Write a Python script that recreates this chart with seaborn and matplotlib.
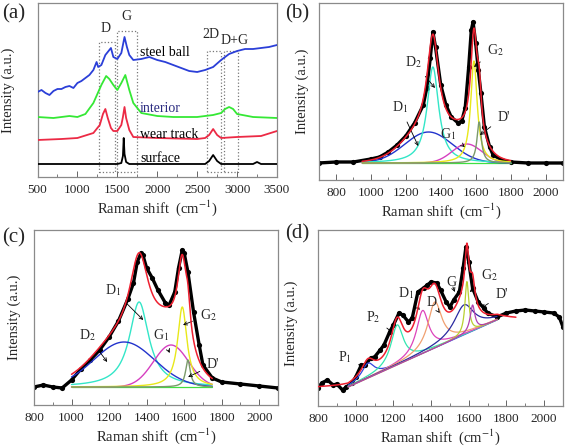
import numpy as np
import pandas as pd
import matplotlib
matplotlib.use("Agg")
import matplotlib.pyplot as plt
from matplotlib.patches import Rectangle
from matplotlib.ticker import MultipleLocator
import seaborn as sns

sns.set_theme(style="ticks")
plt.rcParams["font.family"] = ["Liberation Serif", "DejaVu Serif"]
plt.rcParams["mathtext.fontset"] = "stix"

# ---------------- panel (a) spectra ----------------
steel_x = [500, 550, 600, 650, 700, 750, 800, 850, 900, 950, 1000, 1050, 1100, 1150, 1200, 1240, 1260,
           1300, 1350, 1400, 1420, 1450, 1500, 1550, 1590, 1620, 1650, 1700, 1800, 1900, 2000, 2100,
           2200, 2300, 2400, 2500, 2600, 2700, 2800, 2900, 3000, 3100, 3200, 3300, 3400, 3500]
steel_y = [88, 90, 87, 85, 89, 91, 91, 93, 94, 92, 97, 99, 102, 105, 110, 118, 113,
           115, 125, 130, 132, 123, 121, 127, 143, 133, 125, 120, 121, 123, 120, 118,
           115, 112, 109, 108, 110, 113, 120, 126, 129, 131, 131, 132, 133, 135]
interior_x = [500, 700, 900, 1000, 1100, 1200, 1250, 1300, 1360, 1400, 1450, 1500, 1550, 1600, 1650,
              1700, 1800, 2000, 2200, 2500, 2700, 2800, 2850, 2900, 2950, 3000, 3200, 3500]
interior_y = [63, 62, 64, 63, 66, 77, 86, 95, 104, 101, 95, 90, 97, 105, 90,
              77, 67, 64, 63, 63, 65, 67, 71, 73, 71, 66, 63, 62]
wear_x = [500, 800, 1000, 1200, 1280, 1320, 1350, 1380, 1420, 1450, 1500, 1550, 1570, 1590, 1610,
          1650, 1700, 2000, 2500, 2600, 2650, 2700, 2750, 2800, 3000, 3300, 3500]
wear_y = [40, 41, 42, 47, 55, 66, 71, 62, 52, 49, 49, 55, 63, 73, 62,
          50, 43, 42, 41, 42, 45, 51, 45, 42, 43, 44, 49]
surf_x = [500, 1000, 1500, 1550, 1570, 1580, 1590, 1610, 1650, 2000, 2500, 2600, 2650, 2700, 2750,
          2800, 3000, 3200, 3250, 3300, 3500]
surf_y = [16, 16, 16, 17, 24, 42, 26, 18, 16, 16, 16, 16, 19, 25, 19,
          16, 16, 16, 18, 16, 16]
a_series = ["steel ball", "interior", "wear track", "surface"]
box_labels = ["D", "G", "2D", "D+G"]
box_x0 = [1270, 1492, 2620, 2837]
box_x1 = [1471, 1743, 2800, 3013]
box_ytop = [138, 149, 129, 129]

# ---------------- panel (b) ----------------
b_x = [700, 800, 900, 1000, 1050, 1100, 1150, 1200, 1250, 1300, 1320, 1340, 1355, 1370, 1400, 1430,
       1460, 1500, 1520, 1540, 1560, 1575, 1585, 1600, 1615, 1630, 1650, 1680, 1700, 1750, 1800,
       1900, 2000, 2100]
b_y = [17, 18, 18, 21, 23, 28, 35, 44, 57, 75, 92, 122, 148, 133, 95, 75,
       63, 57, 59, 72, 113, 150, 158, 137, 110, 87, 53, 33, 25, 20, 18,
       17, 17, 17]
b_names = ["D$_1$", "D$_2$", "G$_1$", "G$_2$", "D'"]
b_center = [1330, 1355, 1550, 1590, 1620]
b_fwhm = [320, 80, 200, 45, 30]
b_height = [31, 96, 19, 102, 41]
b_shape = ["gauss", "lorentz", "gauss", "lorentz", "lorentz"]
b_base = 17

# ---------------- panel (c) ----------------
c_x = [800, 850, 900, 950, 1000, 1050, 1100, 1150, 1200, 1250, 1300, 1330, 1350, 1370, 1380, 1400,
       1430, 1460, 1500, 1520, 1550, 1570, 1590, 1600, 1620, 1650, 1680, 1700, 1750, 1800, 1900,
       2000, 2100]
c_y = [18, 20, 18, 17, 25, 36, 45, 55, 68, 84, 106, 122, 143, 152, 150, 137,
       127, 115, 102, 100, 113, 137, 155, 152, 133, 93, 60, 40, 27, 23, 21,
       19, 17]
c_names = ["D$_1$", "D$_2$", "G$_1$", "G$_2$", "D'"]
c_center = [1360, 1280, 1530, 1590, 1620]
c_fwhm = [125, 380, 220, 60, 30]
c_height = [85, 45, 42, 80, 27]
c_shape = ["lorentz", "gauss", "gauss", "lorentz", "lorentz"]
c_base = 18

# ---------------- panel (d) ----------------
d_x = [800, 820, 850, 880, 900, 930, 950, 980, 1000, 1030, 1050, 1080, 1100, 1130, 1150, 1180, 1200,
       1230, 1250, 1280, 1300, 1330, 1360, 1380, 1400, 1430, 1450, 1480, 1500, 1520, 1550, 1570,
       1585, 1600, 1620, 1650, 1680, 1700, 1750, 1800, 1850, 1900, 1950, 2000, 2050, 2080, 2100]
d_y = [17, 22, 25, 20, 21, 15, 18, 22, 28, 40, 40, 47, 48, 55, 60, 73, 80,
       92, 90, 83, 87, 113, 117, 120, 123, 122, 115, 103, 98, 105, 113, 137,
       158, 143, 117, 103, 97, 92, 88, 92, 94, 95, 94, 93, 92, 88, 78]
d_names = ["P$_1$", "P$_2$", "D$_1$", "D", "G", "G$_2$", "D'"]
d_center = [1065, 1220, 1355, 1420, 1575, 1590, 1620]
d_fwhm = [80, 80, 80, 90, 130, 25, 30]
d_height = [15, 40, 43, 46, 30, 52, 26]
d_base_x = [800, 960, 1750, 1850]
d_base_y = [17, 18, 85, 85]

W, H = 567, 448
fig = plt.figure(figsize=(W / 100, H / 100), dpi=100)
SERIF = ["Liberation Serif", "DejaVu Serif"]


def add_ax(left, right, top, bottom):
    return fig.add_axes([left / W, 1 - bottom / H, (right - left) / W, (bottom - top) / H])


def style(ax, xlim, ylim, major, minor):
    ax.set_xlim(*xlim)
    ax.set_ylim(*ylim)
    ax.set_yticks([])
    ax.xaxis.set_major_locator(MultipleLocator(major))
    ax.xaxis.set_minor_locator(MultipleLocator(minor))
    ax.tick_params(axis="x", which="major", direction="in", length=4, width=0.7,
                   labelsize=9.5, pad=5, color="#666666")
    ax.tick_params(axis="x", which="minor", direction="in", length=2, width=0.6, color="#666666")
    for lbl in ax.get_xticklabels():
        lbl.set_fontfamily(SERIF)
    for s in ax.spines.values():
        s.set_color("#8a8a8a")
        s.set_linewidth(0.9)
    ax.set_xlabel("Raman shift  (cm$^{-1}$)", fontsize=10.5, labelpad=2)
    ax.set_ylabel("Intensity (a.u.)", fontsize=10.5)
    ax.set_facecolor("white")


def peak(x, c, w, h, shape):
    if shape == "gauss":
        return h * np.exp(-4 * np.log(2) * ((x - c) / w) ** 2)
    return h / (1 + ((x - c) / (w / 2)) ** 2)


def line(ax, x, y, color, lw, z):
    sns.lineplot(x=np.asarray(x), y=np.asarray(y), ax=ax, color=color, lw=lw,
                 estimator=None, sort=False, zorder=z)


def data(ax, x, y):
    line(ax, x, y, "black", 2.4, 2)
    sns.scatterplot(x=x, y=y, ax=ax, color="black", s=14, edgecolor=None, zorder=2, linewidth=0)


def arrow_label(ax, txt, tip, pos):
    ax.annotate(txt, xy=tip, xytext=pos, fontsize=10, ha="center", va="center",
                arrowprops=dict(arrowstyle="->", lw=0.6, color="black", shrinkA=3, shrinkB=0,
                                mutation_scale=6))


# ---- (a)
axa = add_ax(37.5, 277, 3, 177)
a_colors = ["#2b3fd8", "#35e835", "#ec2a45", "black"]
for xs, ys, col in zip([steel_x, interior_x, wear_x, surf_x], [steel_y, interior_y, wear_y, surf_y], a_colors):
    line(axa, xs, ys, col, 1.3, 3)
for x0, x1, yt in zip(box_x0, box_x1, box_ytop):
    axa.add_patch(Rectangle((x0, 8), x1 - x0, yt - 8, fill=False, ls=":", lw=0.9, ec="#777777", zorder=2))
for lab, x, y in zip(box_labels, [1358, 1609, 2674, 2975], [152, 163, 145, 140]):
    axa.text(x, y, lab, fontsize=10, ha="center", va="center")
for lab, y, col in zip(a_series, [127, 72, 46, 22], ["black", "#2b2b80", "black", "black"]):
    axa.text(1784, y, lab, fontsize=10, ha="left", va="center", color=col)
style(axa, (500, 3500), (3, 177), 500, 250)
axa.yaxis.set_label_coords(-22 / 239.5, 0.5)

# ---- (b)
axb = add_ax(318.5, 563, 3, 180)
data(axb, b_x, b_y)
xs = np.linspace(950, 1800, 700)
b_colors = ["#2233cc", "#33e6c8", "#d63fc0", "#e8e81a", "#7a9a6a"]
tot = np.zeros_like(xs)
line(axb, xs, np.full_like(xs, b_base), "#40e040", 0.9, 3)
for c, w, h, sh, col in zip(b_center, b_fwhm, b_height, b_shape, b_colors):
    comp = peak(xs, c, w, h, sh)
    tot += comp
    line(axb, xs, b_base + comp, col, 1.0, 3)
line(axb, xs, b_base + tot, "#ee2030", 1.1, 4)
for name, tip, pos in zip(b_names, [(1271, 34), (1367, 92), (1538, 33), (1590, 113), (1624, 45)],
                          [(1167, 73), (1243, 118), (1443, 46), (1712, 130), (1760, 63)]):
    arrow_label(axb, name, tip, pos)
style(axb, (700, 2100), (0, 177), 200, 100)
axb.yaxis.set_label_coords(-10 / 244.5, 0.5)

# ---- (c)
axc = add_ax(34, 278, 230, 405)
data(axc, c_x, c_y)
xs = np.linspace(1000, 1750, 700)
c_colors = ["#33e6c8", "#2233cc", "#d63fc0", "#e8e81a", "#7a9a6a"]
tot = np.zeros_like(xs)
line(axc, xs, np.full_like(xs, c_base), "#40e040", 0.9, 3)
for c, w, h, sh, col in zip(c_center, c_fwhm, c_height, c_shape, c_colors):
    comp = peak(xs, c, w, h, sh)
    tot += comp
    line(axc, xs, c_base + comp, col, 1.0, 3)
line(axc, xs, c_base + tot, "#ee2030", 1.1, 4)
for name, tip, pos in zip(c_names, [(1382, 85), (1190, 43), (1523, 52), (1594, 80), (1621, 28)],
                          [(1222, 115), (1084, 70), (1479, 70), (1727, 90), (1754, 40)]):
    arrow_label(axc, name, tip, pos)
style(axc, (800, 2100), (0, 175), 200, 100)
axc.yaxis.set_label_coords(-13 / 244, 0.5)

# ---- (d)
axd = add_ax(318, 563, 230, 406)
data(axd, d_x, d_y)
xs = np.linspace(960, 1750, 700)
xe = np.linspace(800, 1850, 900)
base = np.interp(xs, d_base_x, d_base_y)
base_e = np.interp(xe, d_base_x, d_base_y)
d_colors = ["#3344dd", "#33e6b0", "#dd44bb", "#f0a070", "#2a2aa0", "#b8d030", "#b040b0"]
tot = np.zeros_like(xe)
for c, w, h, col in zip(d_center, d_fwhm, d_height, d_colors):
    line(axd, xs, base + peak(xs, c, w, h, "lorentz"), col, 0.9, 3)
    tot += peak(xe, c, w, h, "lorentz")
line(axd, xe, base_e + tot, "#ee2030", 1.1, 4)
for name, tip, pos in zip(d_names,
                          [(1048, 37), (1198, 72), (1340, 95), (1446, 92), (1526, 113), (1605, 113), (1667, 97)],
                          [(942, 48), (1092, 88), (1269, 112), (1402, 103), (1508, 122), (1712, 130), (1773, 110)]):
    arrow_label(axd, name, tip, pos)
style(axd, (800, 2100), (-1, 175), 200, 100)
axd.yaxis.set_label_coords(-20 / 245, 0.47)

for lab, x, y in zip(["(a)", "(b)", "(c)", "(d)"], [2, 285, 2, 285], [4, 4, 228, 224]):
    fig.text(x / W, 1 - y / H, lab, fontsize=15, ha="left", va="top", fontfamily=SERIF)

fig.savefig("out.png", dpi=100)
